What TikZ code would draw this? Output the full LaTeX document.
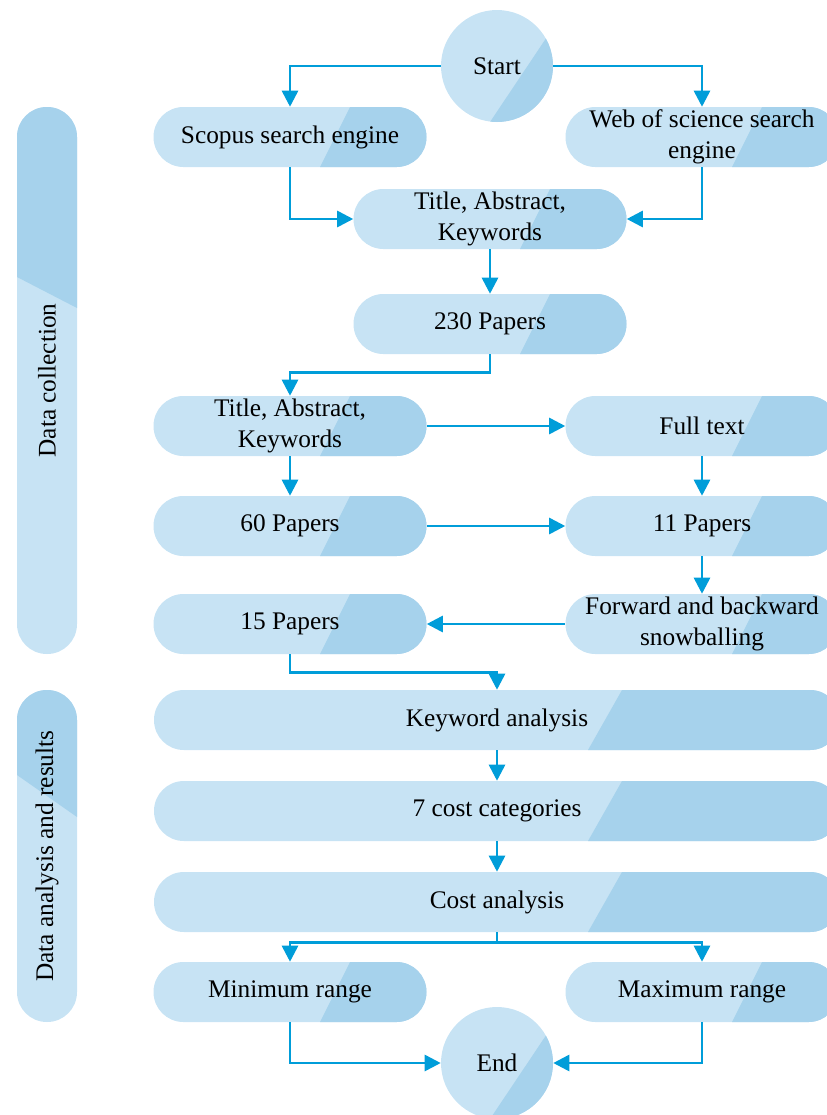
\documentclass[tikz,border=0pt]{standalone}
\usepackage{fontspec}
\setmainfont{Liberation Serif}
\usetikzlibrary{arrows.meta,calc}
\definecolor{lt}{HTML}{C7E3F4}
\definecolor{dk}{HTML}{A6D2EC}
\definecolor{ar}{HTML}{009DD9}
\tikzset{
  txt/.style={font=\fontsize{19}{23.5}\selectfont},
  pill/.style={rectangle, rounded corners=22.4pt, fill=lt, inner sep=0pt,
    minimum width=204.75pt, minimum height=45pt, align=center, txt},
  widepill/.style={pill, minimum width=514.5pt},
  rnd/.style={circle, fill=lt, inner sep=0pt, minimum size=84pt, txt},
  darkh/.style 2 args={path picture={
    \fill[dk, sharp corners] ([xshift=#1*0.75pt]path picture bounding box.south)
      -- ([xshift=#2*0.75pt]path picture bounding box.north)
      -- ([xshift=20pt]path picture bounding box.north east)
      -- ([xshift=20pt]path picture bounding box.south east) -- cycle;}},
  darkv/.style 2 args={path picture={
    \fill[dk, sharp corners] ([yshift=#1*0.75pt]path picture bounding box.west)
      -- ([yshift=#2*0.75pt]path picture bounding box.east)
      -- ([yshift=20pt]path picture bounding box.north east)
      -- ([yshift=20pt]path picture bounding box.north west) -- cycle;}},
  side/.style={rectangle, rounded corners=22.4pt, fill=lt, inner sep=0pt,
    minimum width=45pt},
  arr/.style={draw=ar, line width=2pt, sharp corners, -{Triangle[length=12pt,width=12pt]}},
  ln/.style={draw=ar, line width=2pt}
}
\begin{document}
\begin{tikzpicture}[x=0.75pt,y=-0.75pt]
\useasboundingbox (0,0) rectangle (827,1115);
% side pills
\node[side, minimum height=410.25pt, darkv={103.5}{72.5},
  label={[rotate=90,txt]center:Data collection}] (s1) at (47,380.5) {};
\node[side, minimum height=249pt, darkv={81}{39},
  label={[rotate=90,txt]center:Data analysis and results}] (s2) at (47,856) {};
% main nodes
\node[rnd, darkh={-7}{68}] (start) at (497,66) {Start};
\node[pill, darkh={30}{60}] (scopus) at (290,137) {Scopus search engine};
\node[pill, darkh={30}{60}] (web) at (702,137) {Web of science search\\engine};
\node[pill, darkh={30}{60}] (tak1) at (490,219) {Title, Abstract,\\Keywords};
\node[pill, darkh={30}{60}] (p230) at (490,324) {230 Papers};
\node[pill, darkh={30}{60}] (tak2) at (290,426) {Title, Abstract,\\Keywords};
\node[pill, darkh={30}{60}] (full) at (702,426) {Full text};
\node[pill, darkh={30}{60}] (p60) at (290,526) {60 Papers};
\node[pill, darkh={30}{60}] (p11) at (702,526) {11 Papers};
\node[pill, darkh={30}{60}] (p15) at (290,624) {15 Papers};
\node[pill, darkh={30}{60}] (fwd) at (702,624) {Forward and backward\\snowballing};
\node[widepill, darkh={91}{125}] (kw) at (497,720) {Keyword analysis};
\node[widepill, darkh={91}{125}] (cat) at (497,811) {7 cost categories};
\node[widepill, darkh={91}{125}] (cost) at (497,902) {Cost analysis};
\node[pill, darkh={30}{60}] (min) at (290,992) {Minimum range};
\node[pill, darkh={30}{60}] (max) at (702,992) {Maximum range};
\node[rnd, darkh={-7}{68}] (end) at (497,1063) {End};
% connectors
\draw[arr] (start.west) -| (scopus.north);
\draw[arr] (start.east) -| (web.north);
\draw[arr] (scopus.south) |- (tak1.west);
\draw[arr] (web.south) |- (tak1.east);
\draw[arr] (tak1) -- (p230);
\draw[arr] (p230.south) -- ++(0,18) -| (tak2.north);
\draw[arr] (tak2) -- (full);
\draw[arr] (tak2) -- (p60);
\draw[arr] (full) -- (p11);
\draw[arr] (p60) -- (p11);
\draw[arr] (p11) -- (fwd);
\draw[arr] (fwd) -- (p15);
\draw[arr] (p15.south) -- ++(0,18) -| (kw.north);
\draw[arr] (kw) -- (cat);
\draw[arr] (cat) -- (cost);
\draw[ln] (cost.south) -- ++(0,10) coordinate (split);
\draw[arr] (split) -| (min.north);
\draw[arr] (split) -| (max.north);
\draw[arr] (min.south) |- (end.west);
\draw[arr] (max.south) |- (end.east);
\end{tikzpicture}
\end{document}
